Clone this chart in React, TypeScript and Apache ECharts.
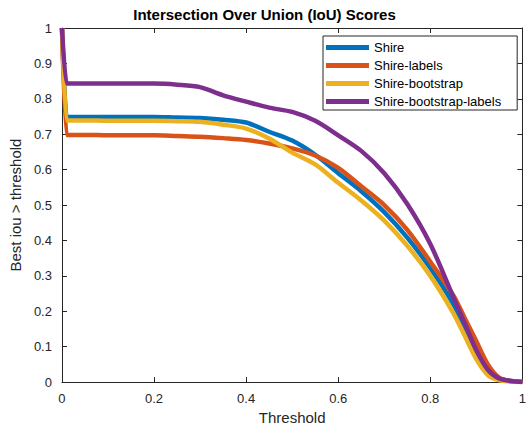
import React, { useEffect, useRef } from "react";
import * as echarts from "echarts";

const thresholds = [0, 0.01, 0.012, 0.05, 0.1, 0.15, 0.2, 0.25, 0.3, 0.35, 0.4, 0.45, 0.5, 0.55, 0.6, 0.65, 0.7, 0.75, 0.8, 0.85, 0.875, 0.9, 0.925, 0.95, 0.975, 1];

const shire = [1, 0.749, 0.749, 0.749, 0.749, 0.749, 0.749, 0.747, 0.746, 0.741, 0.733, 0.707, 0.682, 0.642, 0.59, 0.539, 0.48, 0.408, 0.322, 0.22, 0.15, 0.08, 0.03, 0.01, 0.003, 0];
const shireLabels = [1, 0.698, 0.698, 0.698, 0.697, 0.697, 0.697, 0.695, 0.693, 0.689, 0.684, 0.674, 0.66, 0.64, 0.605, 0.553, 0.5, 0.43, 0.34, 0.245, 0.18, 0.115, 0.05, 0.012, 0.003, 0];
const shireBootstrap = [1, 0.739, 0.739, 0.739, 0.738, 0.738, 0.738, 0.737, 0.735, 0.727, 0.716, 0.688, 0.648, 0.615, 0.563, 0.513, 0.456, 0.385, 0.3, 0.195, 0.13, 0.065, 0.02, 0.005, 0.002, 0];
const shireBootstrapLabels = [1, 0.843, 0.843, 0.843, 0.843, 0.843, 0.843, 0.84, 0.833, 0.81, 0.792, 0.775, 0.763, 0.738, 0.697, 0.653, 0.59, 0.503, 0.39, 0.24, 0.165, 0.09, 0.035, 0.01, 0.003, 0];

const seriesNames = ["Shire", "Shire-labels", "Shire-bootstrap", "Shire-bootstrap-labels"];
const seriesValues = [shire, shireLabels, shireBootstrap, shireBootstrapLabels];
const colors = ["#0072BD", "#D95319", "#EDB120", "#7E2F8E"];

const FONT = "'Liberation Sans', Arial, Helvetica, sans-serif";
const AXIS_COLOR = "#262626";

export default function App() {
  const ref = useRef<HTMLDivElement>(null);
  useEffect(() => {
    if (!ref.current) return;
    const chart = echarts.init(ref.current, null, { renderer: "svg" });
    const tickStyle = { show: true, inside: true, length: 5, lineStyle: { color: AXIS_COLOR, width: 1 } };
    const lineStyle = { show: true, onZero: false, lineStyle: { color: AXIS_COLOR, width: 1 } };
    chart.setOption({
      animation: false,
      backgroundColor: "#ffffff",
      textStyle: { fontFamily: FONT },
      title: {
        text: "Intersection Over Union (IoU) Scores",
        left: "center",
        top: 7,
        padding: 0,
        textStyle: { fontSize: 15, fontWeight: "bold", color: "#000", fontFamily: FONT },
      },
      legend: {
        data: seriesNames,
        orient: "vertical",
        left: 323,
        top: 36,
        padding: [5, 16, 2, 3],
        itemGap: 5,
        itemWidth: 43,
        itemHeight: 5,
        icon: "path://M0,0 L43,0 L43,5 L0,5 Z",
        borderColor: AXIS_COLOR,
        borderWidth: 1,
        backgroundColor: "#ffffff",
        borderRadius: 0,
        textStyle: { fontSize: 13, lineHeight: 12, color: "#000", fontFamily: FONT },
      },
      grid: { left: 59.5, right: 3, top: 28, bottom: 44, containLabel: false },
      xAxis: [
        {
          type: "value",
          min: 0,
          max: 1,
          interval: 0.2,
          name: "Threshold",
          nameLocation: "middle",
          nameGap: 27,
          nameTextStyle: { fontSize: 15, color: AXIS_COLOR, fontFamily: FONT },
          axisLine: lineStyle,
          axisTick: tickStyle,
          splitLine: { show: false },
          axisLabel: { fontSize: 13, color: AXIS_COLOR, margin: 10, fontFamily: FONT },
        },
        {
          type: "value",
          position: "top",
          min: 0,
          max: 1,
          interval: 0.2,
          axisLine: lineStyle,
          axisTick: tickStyle,
          splitLine: { show: false },
          axisLabel: { show: false },
        },
      ],
      yAxis: [
        {
          type: "value",
          min: 0,
          max: 1,
          interval: 0.1,
          name: "Best iou > threshold",
          nameLocation: "middle",
          nameRotate: 90,
          nameGap: 32,
          nameTextStyle: { fontSize: 15, color: AXIS_COLOR, fontFamily: FONT },
          axisLine: lineStyle,
          axisTick: tickStyle,
          splitLine: { show: false },
          axisLabel: { fontSize: 13, color: AXIS_COLOR, margin: 10, fontFamily: FONT },
        },
        {
          type: "value",
          position: "right",
          min: 0,
          max: 1,
          interval: 0.1,
          axisLine: lineStyle,
          axisTick: tickStyle,
          splitLine: { show: false },
          axisLabel: { show: false },
        },
      ],
      series: seriesNames.map((name, i) => ({
        name,
        type: "line",
        xAxisIndex: 0,
        yAxisIndex: 0,
        data: thresholds.map((t, j) => [t, seriesValues[i][j]]),
        showSymbol: false,
        symbol: "none",
        smooth: 0.3,
        color: colors[i],
        lineStyle: { color: colors[i], width: 4.5 },
        clip: true,
      })),
    });
    return () => chart.dispose();
  }, []);
  return (
    <div
      ref={ref}
      style={{ position: "fixed", left: 0, top: 0, width: 529, height: 430 }}
    />
  );
}
